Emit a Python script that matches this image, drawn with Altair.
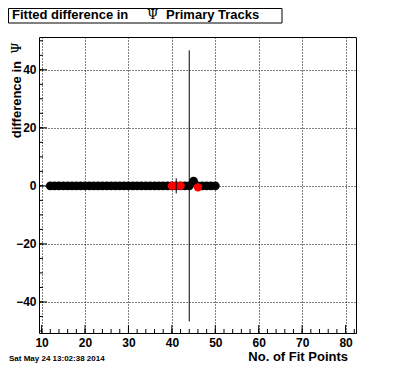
import altair as alt
import pandas as pd

# ---- data ----
black_x = [12, 13, 14, 15, 16, 17, 18, 19, 20, 21, 22, 23, 24, 25, 26, 27, 28, 29, 30,
           31, 32, 33, 34, 35, 36, 37, 38, 39, 40, 41, 42, 43, 44, 45, 46, 47, 48, 49, 50]
black_y = [0, 0, 0, 0, 0, 0, 0, 0, 0, 0, 0, 0, 0, 0, 0, 0, 0, 0, 0,
           0, 0, 0, 0, 0, 0, 0, 0, 0, 0, 0, 0, 0, 0, 1.6, 0, 0, 0, 0, 0]
red_x = [40, 41, 42, 46]
red_y = [0, 0, 0, -0.5]
err_x = [41, 44]
err_lo = [-2.6, -46.7]
err_hi = [2.6, 46.7]

x_major = [10, 20, 30, 40, 50, 60, 70, 80]
x_minor = [10, 12, 14, 16, 18, 20, 22, 24, 26, 28, 30, 32, 34, 36, 38, 40, 42, 44, 46, 48,
           50, 52, 54, 56, 58, 60, 62, 64, 66, 68, 70, 72, 74, 76, 78, 80, 82]
y_major = [-40, -20, 0, 20, 40]
y_minor = [-50, -45, -40, -35, -30, -25, -20, -15, -10, -5, 0, 5, 10, 15, 20, 25, 30, 35, 40, 45, 50]

title_main = "Fitted difference in"
title_psi = "Ψ"
title_rest = "Primary Tracks"
ytitle = "difference in"
xtitle = "No. of Fit Points"
date_text = "Sat May 24 13:02:38 2014"

W, H = 317, 296
FONT = "Liberation Sans"

xs = alt.Scale(domain=[9.4, 82.4], nice=False, zero=False)
ys = alt.Scale(domain=[-50.7, 51.3], nice=False, zero=False)

black_df = pd.DataFrame({"x": black_x, "y": black_y})
red_df = pd.DataFrame({"x": red_x, "y": red_y})
err_df = pd.DataFrame({"x": err_x, "lo": err_lo, "hi": err_hi})
one = pd.DataFrame({"a": [0]})

x_axis = alt.Axis(values=x_major, title=None, grid=True, gridDash=[1, 2], gridColor="black",
                  gridOpacity=1, gridWidth=1, ticks=False, domain=False,
                  labelFont=FONT, labelFontWeight="bold", labelFontSize=12,
                  labelColor="black", labelPadding=4, format="d")
y_axis = alt.Axis(values=y_major, title=None, grid=True, gridDash=[1, 2], gridColor="black",
                  gridOpacity=1, gridWidth=1, ticks=False, domain=False,
                  labelFont=FONT, labelFontWeight="bold", labelFontSize=12,
                  labelColor="black", labelPadding=3, format="d")

pts = alt.Chart(black_df).mark_circle(size=78, color="black", opacity=1).encode(
    x=alt.X("x:Q", scale=xs, axis=x_axis),
    y=alt.Y("y:Q", scale=ys, axis=y_axis),
)
red = alt.Chart(red_df).mark_circle(size=70, color="#ff0000", opacity=1).encode(
    x=alt.X("x:Q", scale=xs, axis=x_axis),
    y=alt.Y("y:Q", scale=ys, axis=y_axis),
)
err = alt.Chart(err_df).mark_rule(color="black", strokeWidth=1).encode(
    x=alt.X("x:Q", scale=xs, axis=x_axis),
    y=alt.Y("lo:Q", scale=ys, axis=y_axis),
    y2="hi:Q",
)

def xticks(vals, length):
    return alt.Chart(pd.DataFrame({"x": vals})).mark_rule(color="black", strokeWidth=1).encode(
        x=alt.X("x:Q", scale=xs, axis=x_axis), y=alt.value(H), y2=alt.value(H - length))

def yticks(vals, length):
    return alt.Chart(pd.DataFrame({"y": vals})).mark_rule(color="black", strokeWidth=1).encode(
        y=alt.Y("y:Q", scale=ys, axis=y_axis), x=alt.value(0), x2=alt.value(length))

box = alt.Chart(one).mark_rect(fill="white", stroke="black", strokeWidth=1).encode(
    x=alt.value(-30.5), x2=alt.value(243), y=alt.value(-28.5), y2=alt.value(-14))

def txt(s, x, y, size=13, weight="bold", font=FONT, align="left", angle=0, baseline="alphabetic"):
    return alt.Chart(one).mark_text(text=s, font=font, fontSize=size, fontWeight=weight,
                                    align=align, baseline=baseline, angle=angle,
                                    color="black").encode(x=alt.value(x), y=alt.value(y))

layers = [
    pts, red, err,
    xticks(x_minor, 4), xticks(x_major, 8),
    yticks(y_minor, 4), yticks(y_major, 8),
    box,
    txt(title_main, -27, -18),
    txt(title_psi, 108, -18, weight="normal", font="DejaVu Serif"),
    txt(title_rest, 127, -18),
    txt(ytitle, -22, 24, align="right", angle=270, baseline="middle"),
    txt(title_psi, -22, 11, weight="normal", font="DejaVu Serif", align="center",
        angle=270, baseline="middle"),
    txt(xtitle, 309, 324, align="right"),
    txt(date_text, -30, 324, size=8),
]

chart = alt.layer(*layers).properties(
    width=W, height=H,
    padding={"left": 31, "top": 29, "right": 32, "bottom": 31},
    autosize=alt.AutoSizeParams(type="none"),
    background="white",
).configure_view(stroke="black", strokeWidth=1)

chart.save("out.html", embed_options={"renderer": "svg", "actions": False})
